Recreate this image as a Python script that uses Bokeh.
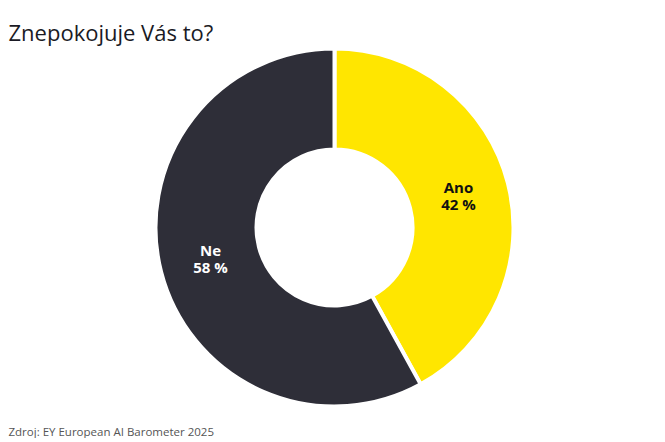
import numpy as np
from bokeh.plotting import figure
from bokeh.models import ColumnDataSource, Range1d
from bokeh.core.properties import value
from bokeh.embed import file_html
from bokeh.resources import INLINE

# Data
categories = ["Ano", "Ne"]
values = [42, 58]
colors = ["#FFE600", "#2E2E38"]
label_colors = ["#111111", "#FFFFFF"]
title_text = "Znepokojuje Vás to?"
source_text = "Zdroj: EY European AI Barometer 2025"

W, H = 660, 438
cx, cy = 334, 211
r_in, r_out = 78, 179
r_lab = 128

fr = np.array(values, dtype=float) / sum(values)
cum = np.concatenate([[0], np.cumsum(fr)])
start = np.pi / 2 - 2 * np.pi * cum[:-1]
end = np.pi / 2 - 2 * np.pi * cum[1:]
mid = (start + end) / 2

src = ColumnDataSource(dict(
    cat=categories, val=values, start=start, end=end, color=colors,
    lx=cx + r_lab * np.cos(mid), ly=cy + r_lab * np.sin(mid),
    name_txt=categories, pct_txt=[f"{v} %" for v in values], tcol=label_colors,
))

p = figure(width=W, height=H, output_backend="svg", toolbar_location=None,
           x_range=Range1d(0, W), y_range=Range1d(0, H), min_border=0)
p.axis.visible = False
p.grid.visible = False
p.outline_line_color = None
p.background_fill_color = "white"

p.annular_wedge(x=cx, y=cy, inner_radius=r_in, outer_radius=r_out,
                start_angle="start", end_angle="end", direction="clock",
                fill_color="color", line_color="white", line_width=4, source=src)

p.text(x="lx", y="ly", text="name_txt", text_color="tcol", source=src,
       text_align="center", text_baseline="bottom", y_offset=1,
       text_font=value("Open Sans"), text_font_style="bold", text_font_size="15px")
p.text(x="lx", y="ly", text="pct_txt", text_color="tcol", source=src,
       text_align="center", text_baseline="top", y_offset=-2,
       text_font=value("Open Sans"), text_font_style="bold", text_font_size="15px")

p.text(x=[8], y=[407], text=[title_text], text_align="left", text_baseline="alphabetic",
       text_font=value("Open Sans"), text_font_size="22px", text_color="#1a1a24")
p.text(x=[8], y=[7], text=[source_text], text_align="left", text_baseline="alphabetic",
       text_font=value("Open Sans"), text_font_size="11.5px", text_color="#555555")

open("out.html", "w").write(file_html(p, INLINE))
